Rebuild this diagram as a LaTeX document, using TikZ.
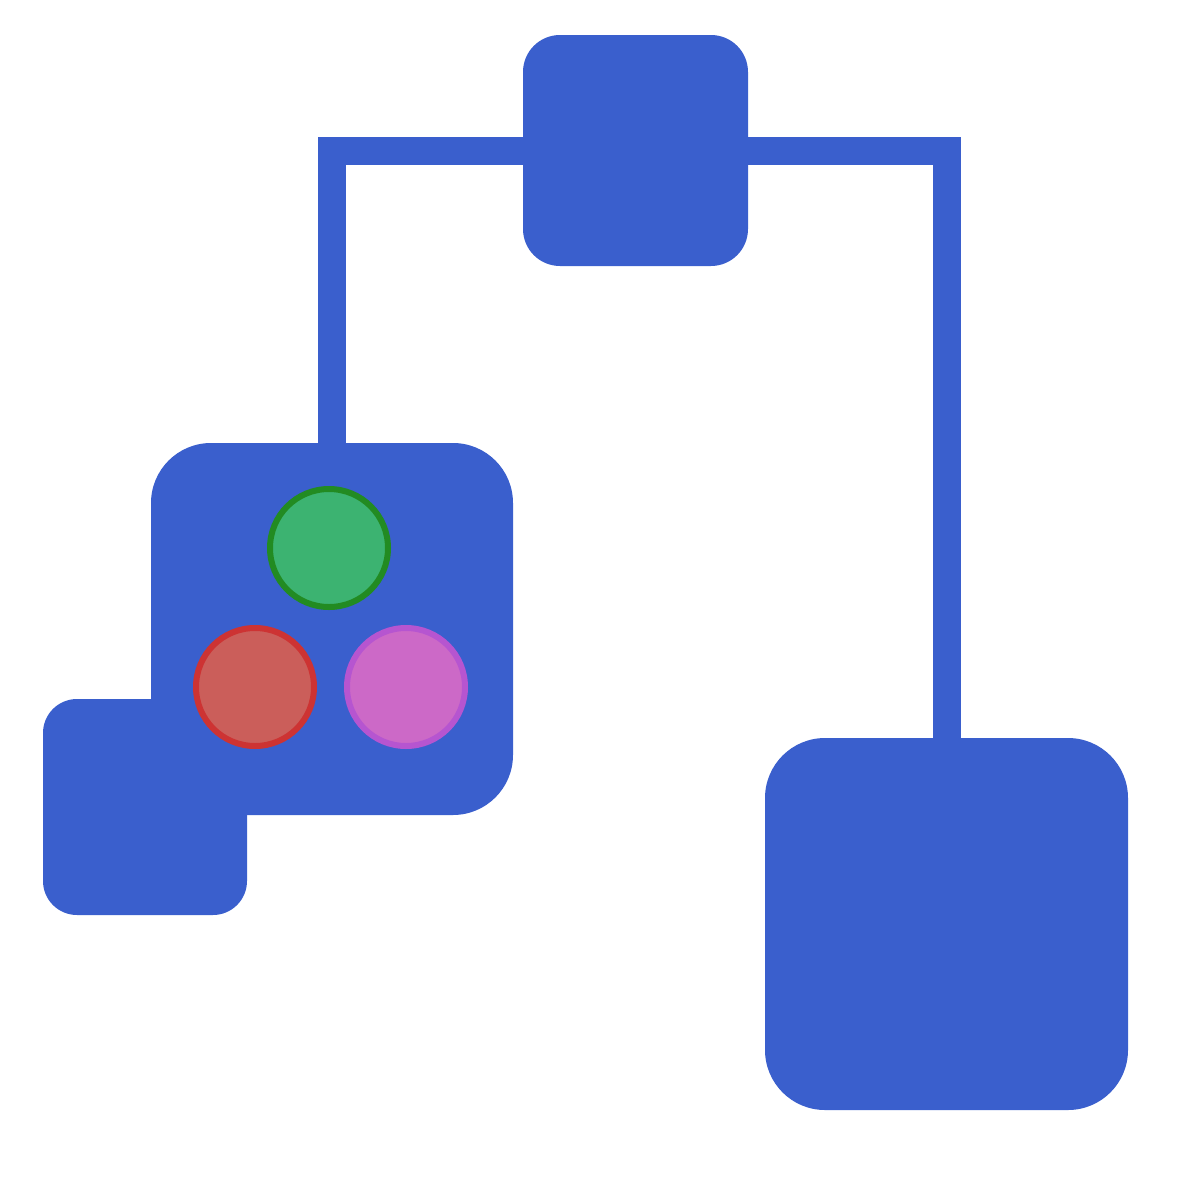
\documentclass[tikz,border=0pt]{standalone}
\definecolor{boxblue}{RGB}{58,95,205}
\definecolor{dotgreen}{RGB}{60,179,113}
\definecolor{dotgreenline}{RGB}{34,139,34}
\definecolor{dotred}{RGB}{203,94,90}
\definecolor{dotredline}{RGB}{205,51,51}
\definecolor{dotpurple}{RGB}{204,105,199}
\definecolor{dotpurpleline}{RGB}{182,85,208}
\tikzset{
    blk/.style={rectangle, fill=boxblue, inner sep=0pt},
    dot/.style={circle, line width=6, minimum size=118, inner sep=0pt}
}
\begin{document}
\begin{tikzpicture}[x=1pt, y=-1pt]
    \useasboundingbox (0,0) rectangle (1181,1181);
    \node[blk, rounded corners=37, minimum width=225, minimum height=231] (top) at (635.5,150.5) {};
    \node[blk, rounded corners=34, minimum width=204, minimum height=216] (small) at (145,807) {};
    \node[blk, rounded corners=60, minimum width=362, minimum height=372] (left) at (332,629) {};
    \node[blk, rounded corners=60, minimum width=363, minimum height=372] (right) at (946.5,924) {};
    \draw[boxblue, line width=28] (top.west) -| (left.north);
    \draw[boxblue, line width=28] (top.east) -| (right.north);
    \node[dot, fill=dotgreen, draw=dotgreenline] (g) at (329,548) {};
    \node[dot, fill=dotred, draw=dotredline] (r) at (255,687) {};
    \node[dot, fill=dotpurple, draw=dotpurpleline] (p) at (406,687) {};
\end{tikzpicture}
\end{document}
